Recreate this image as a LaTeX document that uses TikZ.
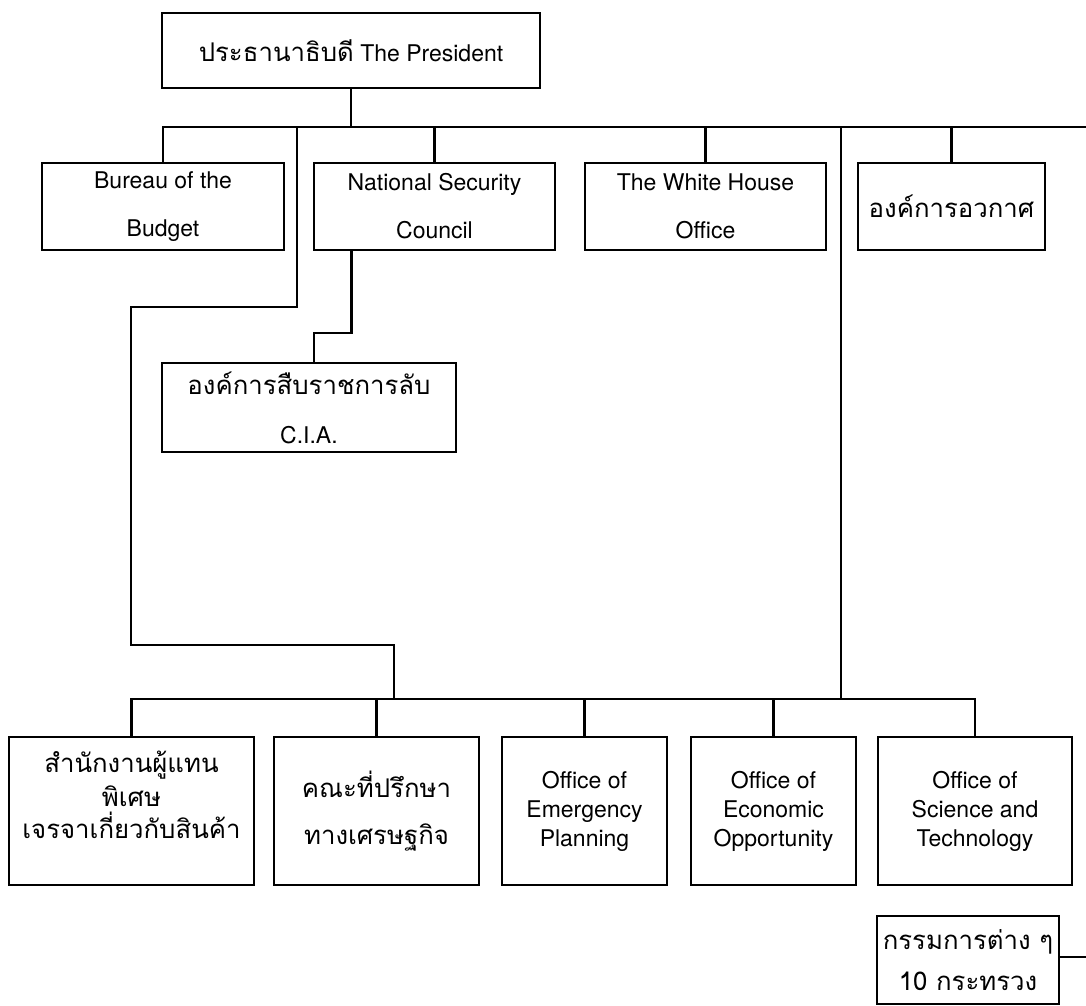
\documentclass[tikz,border=0pt]{standalone}
\usepackage{fontspec}
\setmainfont{TeX Gyre Heros}
\newfontfamily\thaifont[Script=Thai, Scale=1.12]{Loma}
\newcommand{\thai}[1]{{\thaifont #1}}
\usepackage{tikz}
\usetikzlibrary{positioning, calc}

\begin{document}
\begin{tikzpicture}[x=1pt, y=-1pt,
        unit/.style={draw, line width=2.5pt, inner sep=0pt, align=center, font=\fontsize{23}{26}\selectfont},
        link/.style={line width=2.2pt}]
        \useasboundingbox (0,0) rectangle (1086,1005);

        \node[unit, minimum width=378pt, minimum height=75pt] (pres) at (351,50.5) {\thai{ประธานาธิบดี} The President};

        % first row
        \node[unit, minimum width=242pt, minimum height=87pt] (bob) at (163,206.5) {Bureau of the\\[22pt]Budget};
        \node[unit, minimum width=241pt, minimum height=87pt] (nsc) at (434.5,206.5) {National Security\\[22pt]Council};
        \node[unit, minimum width=241pt, minimum height=87pt] (who) at (705.5,206.5) {The White House\\[22pt]Office};
        \node[unit, minimum width=187pt, minimum height=87pt] (space) at (951.5,206.5) {\thai{องค์การอวกาศ}};

        \node[unit, minimum width=294pt, minimum height=89pt] (cia) at (309,407.5) {\thai{องค์การสืบราชการลับ}\\[23pt]C.I.A.};

        % second row
        \node[unit, minimum width=245pt, minimum height=148pt] (str) at (131.5,811) {\thai{สำนักงานผู้แทน}\\[5pt]\thai{พิเศษ}\\[5pt]\thai{เจรจาเกี่ยวกับสินค้า}\\[6pt]};
        \node[unit, minimum width=205pt, minimum height=148pt] (cea) at (376.5,811) {\thai{คณะที่ปรึกษา}\\[21pt]\thai{ทางเศรษฐกิจ}};
        \node[unit, minimum width=165pt, minimum height=148pt] (oep) at (584.5,811) {Office of\\[3pt]Emergency\\[3pt]Planning};
        \node[unit, minimum width=165pt, minimum height=148pt] (oeo) at (773.5,811) {Office of\\[3pt]Economic\\[3pt]Opportunity};
        \node[unit, minimum width=194pt, minimum height=148pt] (ost) at (975,811) {Office of\\[3pt]Science and\\[3pt]Technology};

        \node[unit, minimum width=182pt, minimum height=88pt] (cab) at (968,960) {\thai{กรรมการต่าง ๆ}\\[15pt]\thai{10 กระทรวง}};

        \coordinate (bus) at (351,127);
        \coordinate (busend) at (1086,127);
        \coordinate (split) at (297,127);
        \coordinate (split2) at (841,127);
        \coordinate (lowbus) at (131,699);
        \coordinate (join) at (394,699);

        \draw[link] (pres) -- (pres.south |- bus);
        \draw[link] (bob.north) |- (busend);
        \foreach \n in {nsc, who, space} {
            \draw[link] (\n.north) -- (\n.north |- bus);
        }

        \draw[link] ([xshift=-83pt]nsc.south) -- ++(0,82) -| ([xshift=5pt]cia.north);

        % lines down to the second row
        \draw[link] (split) -- ++(0,180) -| (131,645) -| (join);
        \draw[link] (split2) -- (split2 |- lowbus);
        \draw[link] (str.north) -- (str.north |- lowbus) -- (ost.north |- lowbus) -- (ost.north);
        \foreach \n in {cea, oep, oeo} {
            \draw[link] (\n.north) -- (\n.north |- lowbus);
        }

        \draw[link] ([yshift=3pt]cab.east) -- ([yshift=3pt]cab.east -| busend);
    \end{tikzpicture}
\end{document}
